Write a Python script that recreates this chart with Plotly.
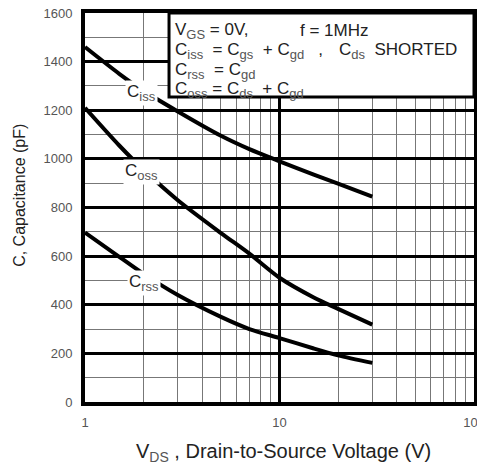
import plotly.graph_objects as go
import numpy as np

# Data
vds = [1, 1.5, 2, 3, 5, 7, 10, 15, 20, 30]
ciss = [1460, 1350, 1280, 1195, 1095, 1040, 990, 935, 898, 845]
coss = [1210, 1055, 955, 830, 695, 610, 511, 430, 383, 318]
crss = [697, 597, 527, 440, 350, 300, 263, 220, 192, 161]

y_ticks = [0, 200, 400, 600, 800, 1000, 1200, 1400, 1600]
x_ticks = [1, 10, 100]

FONT = "Arial, Liberation Sans, sans-serif"
SUBC = "#555"
NB = "\u00a0"

fig = go.Figure()
for name, ys in [("Ciss", ciss), ("Coss", coss), ("Crss", crss)]:
    fig.add_trace(go.Scatter(x=vds, y=ys, mode="lines", name=name,
                             line=dict(color="black", width=4, shape="spline", smoothing=0.8),
                             showlegend=False, hoverinfo="skip"))

def sub(s, size=13):
    return f"<sub><span style='color:{SUBC};font-size:{size}px'>{s}</span></sub>"

# Curve labels
for txt, xv, yv in [("C" + sub("iss"), 1.95, 1272), ("C" + sub("oss"), 1.95, 944), ("C" + sub("rss"), 2.0, 490)]:
    fig.add_annotation(x=np.log10(xv), y=yv, xref="x", yref="y", text=txt, showarrow=False,
                       bgcolor="white", borderpad=1, font=dict(family=FONT, size=17, color="#222"))

# Condition box
fig.add_shape(type="rect", xref="paper", yref="paper", x0=0.216, x1=1.0, y0=0.784, y1=1.0,
              fillcolor="white", line=dict(color="black", width=3), layer="above")

rows = [
    ("V" + sub("GS") + NB + "=" + NB + "0V,", 0.226, 0.955),
    ("f" + NB + "=" + NB + "1MHz", 0.548, 0.955),
    ("C" + sub("iss") + NB * 2 + "=" + NB + "C" + sub("gs") + NB * 2 + "+" + NB + "C" + sub("gd") + NB * 3 + ",", 0.226, 0.902),
    ("C" + sub("ds") + NB * 2 + "SHORTED", 0.648, 0.902),
    ("C" + sub("rss") + NB * 2 + "=" + NB + "C" + sub("gd"), 0.226, 0.850),
    ("C" + sub("oss") + NB + "=" + NB + "C" + sub("ds") + NB * 2 + "+" + NB + "C" + sub("gd"), 0.226, 0.803),
]
for txt, xp, yp in rows:
    fig.add_annotation(x=xp, y=yp, xref="paper", yref="paper", text=txt, showarrow=False,
                       xanchor="left", yanchor="middle", font=dict(family=FONT, size=17, color="#222"))

# Axis titles
fig.add_annotation(x=-0.167, y=0.53, xref="paper", yref="paper", text="C, Capacitance (pF)",
                   textangle=-90, showarrow=False, xanchor="center", yanchor="middle",
                   font=dict(family=FONT, size=16, color="#222"))
fig.add_annotation(x=0.51, y=-0.13, xref="paper", yref="paper",
                   text="V" + sub("DS", 14) + " , Drain-to-Source Voltage (V)",
                   showarrow=False, xanchor="center", yanchor="middle",
                   font=dict(family=FONT, size=20, color="#222"))

fig.update_xaxes(type="log", range=[0, 2], tickmode="linear", tick0=0, dtick=1,
                 showgrid=True, gridcolor="black", gridwidth=2.5,
                 minor=dict(dtick="D1", showgrid=True, gridcolor="#777", gridwidth=1, ticks=""),
                 showline=True, linecolor="black", linewidth=4, mirror=True,
                 ticks="", ticklabelstandoff=5, ticklabeloverflow="allow",
                 tickfont=dict(family=FONT, size=13, color="#555"),
                 zeroline=False, automargin=False)
fig.update_yaxes(range=[0, 1600], tickmode="linear", tick0=0, dtick=200,
                 showgrid=True, gridcolor="black", gridwidth=2.5,
                 minor=dict(dtick=100, tick0=0, showgrid=True, gridcolor="#777", gridwidth=1, ticks=""),
                 showline=True, linecolor="black", linewidth=4, mirror=True,
                 ticks="", ticklabelstandoff=6, ticklabeloverflow="allow",
                 tickfont=dict(family=FONT, size=13, color="#555"),
                 zeroline=False, automargin=False)

# page body has an 8px margin: size/margins compensate so the plot area lands where the reference has it
fig.update_layout(width=477, height=457, margin=dict(l=77, r=11, t=5, b=63),
                  plot_bgcolor="white", paper_bgcolor="white", font=dict(family=FONT))

fig.write_html("out.html")
